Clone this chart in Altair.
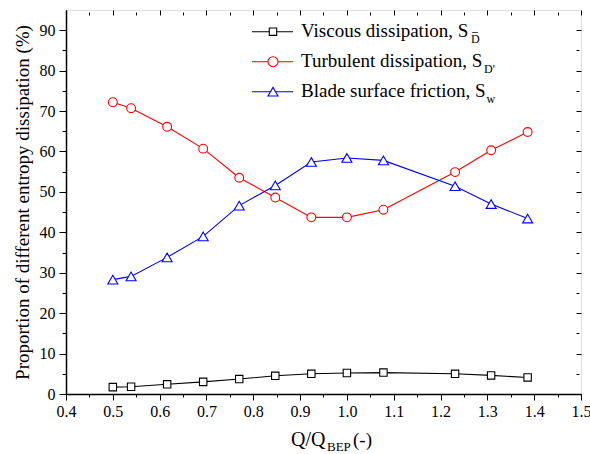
import altair as alt
import pandas as pd

# ---- data ----
q = [0.5, 0.539, 0.616, 0.693, 0.770, 0.847, 0.924, 1.0, 1.078, 1.231, 1.308, 1.386]
viscous = [1.7, 1.8, 2.4, 3.0, 3.7, 4.5, 5.0, 5.2, 5.3, 5.0, 4.6, 4.1]
turbulent = [72.2, 70.7, 66.1, 60.7, 53.5, 48.6, 43.7, 43.7, 45.6, 54.9, 60.3, 64.8]
blade = [28.3, 29.1, 33.8, 39.0, 46.6, 51.6, 57.4, 58.4, 57.8, 51.4, 47.0, 43.4]

series_names = ["Viscous dissipation", "Turbulent dissipation", "Blade surface friction"]
legend_main = ["Viscous dissipation, S", "Turbulent dissipation, S", "Blade surface friction, S"]
legend_sub = ["D\u0305", "D'", "w"]
colors = ["#000000", "#FF0000", "#0000FF"]
shapes = ["square", "circle", "triangle-up"]
sizes = [55, 100, 100]

x_ticks = [round(0.4 + 0.05 * i, 2) for i in range(23)]
y_ticks = [5 * i for i in range(19)]

FONT = "Liberation Serif"

rows = []
for name, vals in zip(series_names, [viscous, turbulent, blade]):
    for xv, yv in zip(q, vals):
        rows.append({"q": xv, "v": yv, "series": name})
df = pd.DataFrame(rows)

xs = alt.Scale(domain=[0.4, 1.5], nice=False, zero=False)
ys = alt.Scale(domain=[0, 95], nice=False, zero=False)
cs = alt.Scale(domain=series_names, range=colors)
ss = alt.Scale(domain=series_names, range=shapes)
zs = alt.Scale(domain=series_names, range=sizes)

x_axis = alt.Axis(
    orient="bottom", values=x_ticks, title=None, grid=False,
    labelExpr="round(datum.value*20)%2==0 ? format(datum.value,'.1f') : ''",
    tickSize={"condition": {"test": "round(datum.value*20)%2==1", "value": 3}, "value": 6},
    labelFont=FONT, labelFontSize=16, labelColor="black", labelPadding=3,
    labelFlush=False, labelOverlap=False,
    domainColor="black", domainWidth=1.5, tickColor="black", tickWidth=1,
)
y_axis = alt.Axis(
    orient="left", values=y_ticks, grid=False,
    title="Proportion of different entropy dissipation (%)",
    titleFont=FONT, titleFontSize=19, titleFontWeight="normal", titleColor="black",
    titlePadding=7,
    labelExpr="datum.value%10==0 && datum.value<=90 ? datum.value : ''",
    tickSize={"condition": {"test": "datum.value%10!=0", "value": 4}, "value": 7},
    labelFont=FONT, labelFontSize=16, labelColor="black", labelPadding=4,
    labelFlush=False, labelOverlap=False,
    domainColor="black", domainWidth=1.5, tickColor="black", tickWidth=1,
)
x_top = alt.Axis(
    orient="top", values=x_ticks, title=None, grid=False, labels=False, domain=False,
    offset=-5,
    tickSize={"condition": {"test": "round(datum.value*20)%2==1", "value": 3}, "value": 5},
    tickColor="black",
)
y_right = alt.Axis(
    orient="right", values=y_ticks, title=None, grid=False, labels=False, domain=False,
    offset=-5,
    tickSize={"condition": {"test": "datum.value%10!=0", "value": 3}, "value": 5},
    tickColor="black",
)

lines = alt.Chart(df).mark_line(strokeWidth=1.1).encode(
    x=alt.X("q:Q", scale=xs, axis=x_axis),
    y=alt.Y("v:Q", scale=ys, axis=y_axis),
    color=alt.Color("series:N", scale=cs, legend=None),
    detail="series:N",
)
points = alt.Chart(df).mark_point(fill="white", opacity=1, strokeWidth=1.1, filled=False).encode(
    x=alt.X("q:Q", scale=xs, axis=None),
    y=alt.Y("v:Q", scale=ys, axis=None),
    stroke=alt.Stroke("series:N", scale=cs, legend=None),
    shape=alt.Shape("series:N", scale=ss, legend=None),
    size=alt.Size("series:N", scale=zs, legend=None),
)
mirror = alt.Chart(df).mark_point(opacity=0).encode(
    x=alt.X("q:Q", scale=xs, axis=x_top),
    y=alt.Y("v:Q", scale=ys, axis=y_right),
)

layers = [lines, points, mirror]

# ---- custom legend ----
sub_x = [405, 418, 420.5]
for i in range(3):
    yc = 21.7 + 30 * i
    one = pd.DataFrame({"k": [0]})
    layers.append(alt.Chart(one).mark_rule(color=colors[i], strokeWidth=1.1).encode(
        x=alt.value(186), x2=alt.value(227), y=alt.value(yc)))
    layers.append(alt.Chart(one).mark_point(
        shape=shapes[i], size=sizes[i], stroke=colors[i], fill="white",
        opacity=1, strokeWidth=1.1, filled=False).encode(
        x=alt.value(207), y=alt.value(yc)))
    layers.append(alt.Chart(one).mark_text(
        font=FONT, fontSize=19, align="left", baseline="alphabetic", color="black").encode(
        x=alt.value(235), y=alt.value(yc + 5.6), text=alt.value(legend_main[i])))
    layers.append(alt.Chart(one).mark_text(
        font=FONT, fontSize=12, align="left", baseline="alphabetic", color="black").encode(
        x=alt.value(sub_x[i]), y=alt.value(yc + 11), text=alt.value(legend_sub[i])))

# ---- x axis title with subscript ----
one = pd.DataFrame({"k": [0]})
layers.append(alt.Chart(one).mark_text(
    font=FONT, fontSize=20, align="left", baseline="alphabetic", color="black").encode(
    x=alt.value(225), y=alt.value(436), text=alt.value("Q/Q")))
layers.append(alt.Chart(one).mark_text(
    font=FONT, fontSize=13, align="left", baseline="alphabetic", color="black").encode(
    x=alt.value(261), y=alt.value(441), text=alt.value("BEP")))
layers.append(alt.Chart(one).mark_text(
    font=FONT, fontSize=19, align="left", baseline="alphabetic", color="black").encode(
    x=alt.value(287), y=alt.value(436), text=alt.value("(-)")))

chart = alt.layer(*layers).resolve_axis(x="independent", y="independent").properties(
    width=515, height=384,
    autosize=alt.AutoSizeParams(type="none"),
    padding={"left": 66, "top": 10, "right": 9, "bottom": 60},
).configure_view(stroke="black", strokeWidth=1.5).configure(background="white")

chart.save("out.html", embed_options={"renderer": "svg", "actions": False})
